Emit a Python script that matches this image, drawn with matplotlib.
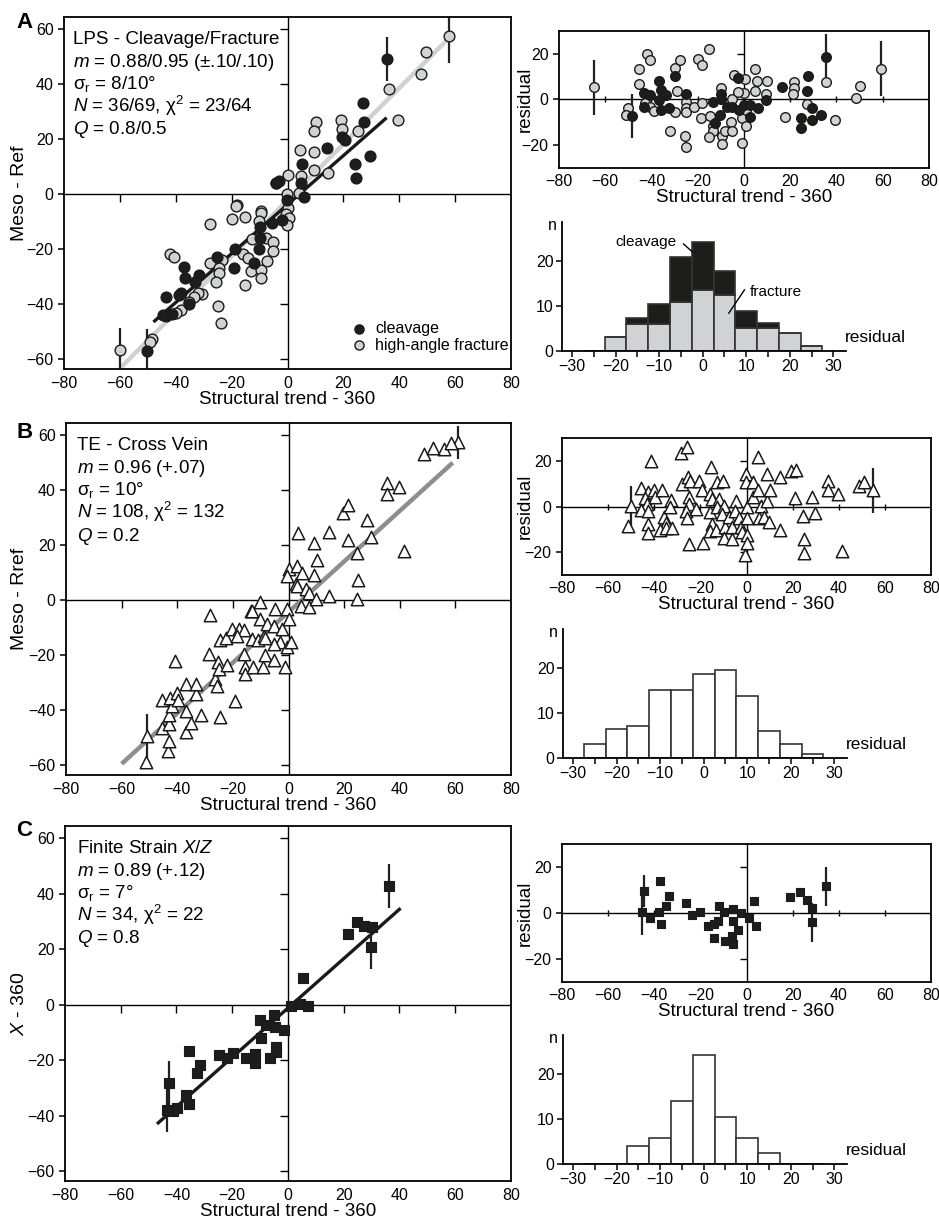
import numpy as np
import matplotlib.pyplot as plt

plt.rcParams['font.family'] = ['Liberation Sans', 'DejaVu Sans']
plt.rcParams['mathtext.fontset'] = 'custom'
plt.rcParams['mathtext.rm'] = 'Liberation Sans'
plt.rcParams['mathtext.it'] = 'Liberation Sans:italic'
plt.rcParams['mathtext.bf'] = 'Liberation Sans:bold'
plt.rcParams['axes.linewidth'] = 1.3

# ---------------- panel A data ----------------
a_clv_x = [35.5, 26.9, 27.2, 19.5, 20.6, 14.1, 29.5, 24.2, 24.6, 5.2, 4.9, 6.0, -3.1, -0.1,
           -5.5, -1.9, -9.9, -9.9, -10.2, -18.7, -19.1, -12.0, -25.3, -36.9, -36.7, -31.8,
           -33.0, -38.1, -39.0, -43.4, -35.3, -43.4, -41.3, -50.3, -4.0, -44.5]
a_clv_y = [49.0, 33.0, 26.3, 20.8, 19.6, 16.8, 13.8, 10.8, 5.9, 10.8, 3.9, -1.0, 4.7, -2.2,
           -10.4, -9.5, -12.1, -16.1, -20.1, -20.1, -26.8, -25.0, -22.8, -26.4, -30.4, -29.5,
           -31.9, -35.9, -36.7, -37.3, -40.0, -44.3, -43.6, -57.0, 4.2, -44.0]
a_frac_x = [57.7, 49.4, 47.7, 36.4, 39.4, 10.2, 9.6, 19.1, 19.5, 25.4, 4.4, 9.6, 9.6, 14.4,
            5.0, 0.2, -4.3, -0.1, 4.0, -18.1, -9.6, 0.2, -0.4, 0.5, -0.1, -18.3, -15.2, -19.7,
            -27.7, -9.6, -10.2, -12.8, -7.8, -5.2, -5.2, -7.5, -16.1, -14.3, -12.9, -9.6, -9.6,
            -15.2, -23.5, -27.7, -24.4, -24.4, -25.6, -42.2, -40.5, -30.6, -32.1, -33.6, -35.1,
            -38.1, -39.9, -25.0, -23.8, -48.5, -49.4, -60.0]
a_frac_y = [57.6, 51.5, 43.6, 38.2, 26.9, 26.3, 23.0, 26.9, 23.5, 23.0, 16.2, 15.2, 8.7, 7.5,
            6.5, 6.9, 3.9, 0.2, 0.5, -4.0, -6.1, -5.2, -7.3, -8.8, -11.3, -4.4, -8.2, -9.1,
            -10.7, -6.7, -9.8, -16.5, -15.8, -17.3, -20.6, -24.4, -21.9, -23.4, -27.9, -27.6,
            -30.4, -33.1, -24.0, -25.0, -26.7, -28.6, -31.9, -21.9, -23.0, -36.4, -35.9, -37.3,
            -39.2, -42.2, -43.4, -40.7, -47.0, -52.8, -53.7, -56.7]
a_clv_err = ([35.5, -50.3], [49.0, -57.0], [8, 8])
a_frac_err = ([57.7, -60.0], [57.6, -56.7], [10, 8])
a_fit_clv = (0.89, -3.8, -48, 35.5)      # slope, intercept, x from, x to
a_fit_frac = (1.02, -2.2, -60, 58)

a_res_frac_x = [-64.9, -50.2, -51.2, -45.4, -45.5, -41.8, -40.8, -43.0, -40.8, -39.1, -30.0,
                -27.8, -28.8, -30.0, -32.1, -25.2, -25.2, -25.2, -25.7, -24.9, -21.8, -19.9,
                -18.0, -15.1, -18.0, -18.7, -14.6, -13.4, -13.4, -15.1, -10.1, -9.5, -9.4, -8.4,
                -5.5, -5.0, -5.2, -4.3, 0.3, 0.0, -2.6, -0.7, 0.7, -0.7, 1.0, 4.9, 5.8, 4.9, 9.9,
                9.7, 17.9, 21.5, 21.5, 21.2, 27.3, 35.3, 39.5, 48.3, 50.3, 59.2]
a_res_frac_y = [5.4, -3.6, -7.0, 13.4, 6.6, 20.0, 17.1, -1.5, -3.1, -5.1, 13.7, 17.5, 3.6, -5.3,
                -13.6, -0.9, -3.6, -5.5, -16.1, -20.9, -3.1, 17.8, 15.2, 21.9, -1.5, -8.0, -7.4,
                -11.7, -13.9, -16.5, 5.1, -16.2, -19.7, -13.9, -9.9, -14.0, 0.3, 10.9, 9.1, 2.8,
                3.2, -8.2, -11.8, -19.0, -4.8, 13.4, 8.0, 3.6, 8.3, 2.5, -7.7, 7.6, 5.1, 2.5,
                -2.2, 7.7, -8.8, 0.7, 6.0, 13.4]
a_res_clv_x = [-48.4, -43.2, -43.2, -40.5, -36.9, -36.9, -36.0, -36.0, -33.6, -32.6, -29.7,
               -24.9, -13.4, -12.4, -10.1, -10.1, -10.2, -7.2, -5.0, -2.6, -2.2, 0.0, 2.5, 2.5,
               6.1, 9.7, 16.4, 27.7, 27.3, 29.5, 24.5, 24.5, 29.4, 33.2, 35.3]
a_res_clv_y = [-7.3, 2.9, -3.1, 1.8, 8.3, -0.1, 4.2, -4.8, 2.0, -3.8, 10.1, 2.5, -1.2, -10.4,
               2.5, 0.0, -6.7, -3.1, -3.1, 9.3, -4.5, -2.3, -2.6, -7.7, -3.6, -0.1, 5.4, 10.5,
               3.9, -3.6, -8.0, -12.7, -9.2, -7.0, 18.8]
a_res_frac_err = ([-64.9, 59.2], [5.4, 13.4], [12, 12])
a_res_clv_err = ([-48.4, 35.3], [-7.3, 18.8], [9.5, 10])

hist_bins = [-25, -20, -15, -10, -5, 0, 5, 10, 15, 20, 25]
a_hist_frac = [0, 3, 6, 6, 11, 13.5, 12.5, 5, 5, 4, 1]
a_hist_clv = [0, 0, 1.3, 4.5, 10, 10.8, 5.3, 4, 1.2, 0, 0]

# ---------------- panel B data ----------------
b_x = [-50.8, -51.1, -43.2, -43.0, -45.4, -37.0, -35.2, -36.7, -43.0, -43.0, -31.6, -24.8,
       -42.0, -45.4, -42.6, -40.0, -39.6, -33.1, -37.0, -33.1, -41.0, -19.3, -26.5, -25.6,
       -25.3, -25.0, -22.0, -28.6, -24.8, -22.6, -20.2, -17.8, -16.1, -18.4, -16.1, -15.5,
       -15.5, -12.7, -9.2, -8.5, -5.3, -1.1, -28.3, -13.4, -10.1, -10.3, -13.0, -10.9, -8.9,
       -7.7, -5.3, -4.7, -0.5, -2.3, 0.1, -2.9, -0.5, 0.7, -5.3, -8.3, 4.3, 7.3, 24.7,
       3.5, 0.1, 2.9, -0.5, 2.5, -13.0, 2.9, 4.9, 6.1, 7.5, 9.0, 9.0, 10.1, 9.7, 14.5, 14.7,
       19.4, 21.5, 21.2, 24.6, 24.9, 28.2, 29.6, 35.4, 35.4, 39.6, 41.5, 48.7, 56.0, 61.0,
       58.5, 52.0]
b_y = [-49.4, -58.7, -54.8, -51.1, -46.4, -47.8, -44.8, -40.4, -45.2, -41.8, -41.8, -42.6,
       -38.4, -36.4, -35.4, -33.6, -36.4, -34.3, -30.4, -30.4, -22.0, -36.7, -28.6, -31.2,
       -22.3, -24.9, -23.7, -19.5, -14.3, -13.7, -10.5, -10.5, -10.7, -12.9, -19.5, -24.3,
       -26.7, -24.3, -24.3, -19.9, -21.7, -24.3, -5.4, -3.9, -0.8, -6.9, -14.1, -14.5, -12.9,
       -8.7, -9.3, -3.3, -3.3, -10.5, -6.9, -15.3, -17.1, -15.3, -15.9, -13.8, -2.1, -2.6, 0.4,
       24.5, 11.2, 12.4, 8.8, 5.8, -3.9, 5.0, 9.8, 4.0, 2.6, 20.8, 9.0, 14.7, 0.5, 24.7, 1.7,
       31.8, 34.6, 22.0, 17.2, 7.4, 29.0, 23.0, 42.8, 38.7, 41.3, 18.0, 53.0, 55.0, 57.5,
       57.0, 55.5]
b_err = ([-50.8, 61.0], [-49.4, 57.5], [8, 6])
b_fit = (0.92, -4.3, -60, 59)

b_res_x = [-50.1, -51.4, -45.7, -42.6, -43.8, -43.1, -45.7, -42.6, -42.8, -42.8, -41.2, -40.2,
           -39.5, -36.6, -35.8, -35.1, -37.3, -35.1, -32.1, -32.7, -33.2, -27.9, -28.2, -25.7,
           -25.4, -24.3, -24.9, -25.0, -26.4, -25.7, -25.0, -21.8, -20.4, -19.2, -18.9, -15.9,
           -15.2, -14.9, -15.9, -14.9, -15.9, -13.2, -12.7, -12.0, -13.0, -10.1, -9.8, -10.8,
           -9.5, -9.8, -7.7, -6.2, -6.2, -4.5, -5.2, -3.3, -2.6, -1.9, -0.1, -0.4, 0.3, 0.0,
           0.3, 0.0, -0.6, 2.9, 2.9, 4.9, 4.9, 5.3, 6.1, 7.5, 9.0, 9.0, 10.1, 9.7, 14.5, 14.7,
           19.4, 21.5, 21.2, 24.6, 24.9, 24.9, 28.2, 29.6, 35.4, 35.4, 39.6, 41.5, 48.7, 50.9,
           54.8]
b_res_y = [0.1, -8.4, 8.3, 6.4, 3.9, 1.0, -1.6, -1.9, -7.7, -11.7, 20.1, 7.4, 4.2, 7.1, -4.5,
           -7.4, -10.3, -9.3, -9.3, 2.8, -0.1, 10.0, 23.3, 26.2, 12.9, 11.0, 4.2, 1.3, -1.9,
           -5.2, -16.4, -0.9, 11.0, 7.4, -16.1, 5.7, 17.2, 3.5, -2.5, -7.7, -10.7, -10.3, 10.7,
           3.5, -0.1, 11.0, 0.1, -3.3, -8.8, -13.9, -4.5, -9.1, -14.3, 2.5, -1.9, -5.2, -8.8,
           -11.0, 14.1, 10.7, -0.1, -4.9, -12.5, -15.8, -21.2, 10.7, 4.2, 21.9, 7.1, -5.2, 0.1,
           -4.5, 14.3, 2.5, 7.1, -6.7, 12.9, -10.3, 15.4, 16.2, 3.9, -4.2, -14.3, -20.4, 4.2,
           -3.0, 11.2, 7.1, 5.7, -19.4, 8.8, 10.7, 7.1]
b_res_err = ([-50.1, 54.8], [0.1, 7.1], [9, 10])
b_hist = [3.2, 6.5, 7.2, 15.2, 15.1, 18.75, 19.6, 13.75, 6.0, 3.1, 1.0]

# ---------------- panel C data ----------------
c_x = [36.1, 24.7, 27.1, 30.1, 21.4, 29.9, 5.4, 1.2, 4.2, 7.0, -5.1, -10.2, -7.8, -4.8, -1.4,
       -9.6, -4.2, -4.2, -6.6, -12.0, -12.0, -15.1, -19.9, -21.9, -24.7, -31.6, -32.8, -35.4,
       -36.7, -35.5, -39.8, -41.2, -42.8, -43.4]
c_y = [42.7, 29.7, 28.5, 28.1, 25.5, 20.8, 9.7, -0.4, 0.2, -0.6, -3.9, -5.7, -7.3, -7.9, -9.1,
       -12.1, -15.2, -17.0, -19.2, -17.9, -21.2, -19.4, -17.6, -19.4, -18.2, -21.6, -24.8,
       -16.6, -32.7, -36.0, -37.3, -38.5, -28.2, -37.9]
c_err = ([36.1, 29.9, -42.8, -43.4], [42.7, 20.8, -28.2, -37.9], [8, 8, 8, 8])
c_fit = (0.89, -1.2, -47, 40.4)

c_res_x = [-45.2, -44.4, -41.9, -38.0, -37.7, -37.1, -34.7, -33.5, -26.4, -23.6, -20.1, -16.9,
           -14.2, -14.2, -12.3, -12.0, -9.8, -9.2, -5.9, -5.8, -6.5, -5.9, -3.9, -2.2, 1.0, 3.2,
           4.3, 18.8, 23.3, 26.3, 28.5, 28.3, 34.4]
c_res_y = [0.4, 9.6, -2.2, 0.4, 13.9, -5.0, 2.8, 7.3, 4.1, -0.7, 0.4, -5.6, -4.9, -10.8, -3.4,
           3.0, 0.4, -12.1, 1.5, -3.3, -10.1, -13.6, -7.4, -0.1, -2.2, 5.2, -5.5, 7.0, 8.9, 5.5,
           2.2, -4.0, 11.6]
c_res_err = ([-45.2, -44.4, 28.3, 34.4], [0.4, 9.6, -4.0, 11.6], [10, 7, 8.5, 8.5])
c_hist = [0, 0, 3.9, 5.8, 14.1, 24.3, 10.5, 5.8, 2.4, 0, 0]

GREY = '#d0d2d3'
DARK = '#1d1e1b'
TICK_FS = 11.5
LAB_FS = 13.5
W, H = 939, 1225

fig = plt.figure(figsize=(W / 100, H / 100), dpi=100)


def zero_cross(ax, xt, yt, xmark, ymark, size):
    ax.axhline(0, color='k', lw=1.0, zorder=1)
    ax.axvline(0, color='k', lw=1.0, zorder=1)
    ax.plot(xt, np.zeros(len(xt)), ls='none', marker=xmark, ms=size, mew=1.0, color='k', zorder=1)
    ax.plot(np.zeros(len(yt)), yt, ls='none', marker=ymark, ms=size, mew=1.0, color='k', zorder=1)


def scatter_axes(rect, ylabel):
    ax = fig.add_axes(rect)
    ax.set_xlim(-80, 80)
    ax.set_ylim(-63.6, 64.4)
    ax.set_xticks(range(-80, 81, 20))
    ax.set_yticks(range(-60, 61, 20))
    ax.tick_params(axis='x', length=0, pad=5, labelsize=TICK_FS)
    ax.tick_params(axis='y', direction='out', length=4, width=1.1, labelsize=TICK_FS)
    zero_cross(ax, [-60, -40, -20, 20, 40, 60], [-60, -40, -20, 20, 40, 60], 3, 0, 6)
    ax.set_xlabel('Structural trend - 360', fontsize=LAB_FS, labelpad=0)
    ax.set_ylabel(ylabel, fontsize=14)
    # right edge of the rotated label at about 28 px from the figure edge
    ax.yaxis.set_label_coords((28 - rect[0] * W) / (rect[2] * W), 0.5)
    return ax


def resid_axes(rect):
    ax = fig.add_axes(rect)
    ax.set_xlim(-80, 80)
    ax.set_ylim(-30, 30)
    ax.set_xticks(range(-80, 81, 20))
    ax.set_yticks([-20, 0, 20])
    ax.tick_params(axis='x', length=0, pad=4, labelsize=TICK_FS)
    ax.tick_params(axis='y', direction='out', length=4, width=1.1, labelsize=TICK_FS)
    zero_cross(ax, [-60, -40, -20, 20, 40, 60], [-20, 20], '|', 0, 5)
    ax.set_xlabel('Structural trend - 360', fontsize=LAB_FS, labelpad=0)
    ax.set_ylabel('residual', fontsize=LAB_FS)
    ax.yaxis.set_label_coords((534 - rect[0] * W) / (rect[2] * W), 0.5)
    return ax


def hist_axes(rect):
    ax = fig.add_axes(rect)
    ax.set_xlim(-32.3, 32.9)
    ax.set_ylim(0, 28.7)
    for s in ['top', 'right']:
        ax.spines[s].set_visible(False)
    ax.set_xticks(range(-30, 31, 10))
    ax.set_xticks(range(-25, 31, 10), minor=True)
    ax.set_yticks([0, 10, 20])
    ax.tick_params(axis='x', which='both', direction='out', length=4, width=1.1, labelsize=TICK_FS, pad=2)
    ax.tick_params(axis='y', direction='out', length=4, width=1.1, labelsize=TICK_FS, pad=2)
    ax.text(-0.02, 0.97, 'n', transform=ax.transAxes, ha='right', va='center', fontsize=TICK_FS)
    ax.text(32.6, 3.0, 'residual', ha='left', va='center', fontsize=12.5, clip_on=False)
    return ax


def fit_line(ax, fit, color, lw):
    m, b, x0, x1 = fit
    xs = np.array([x0, x1])
    ax.plot(xs, m * xs + b, color=color, lw=lw, solid_capstyle='butt', zorder=2)


def errs(ax, e):
    ax.errorbar(e[0], e[1], yerr=e[2], fmt='none', ecolor='#222', elinewidth=1.6, capsize=0, zorder=2)


def stats_text(ax, x_px, lines):
    # baselines 27 px below the top spine, 22.6 px apart
    x0, y0, w, h = ax.get_position().bounds
    for i, s in enumerate(lines):
        yb = 1 - (27 + 22.6 * i) / (h * H)
        ax.text((x_px - x0 * W) / (w * W), yb, s, transform=ax.transAxes, ha='left',
                va='baseline', fontsize=13.5)


# ---------------- A ----------------
ax = scatter_axes([0.0682, 0.6988, 0.476, 0.2873], 'Meso - Ref')
fit_line(ax, a_fit_frac, '#cfd1d2', 3.2)
fit_line(ax, a_fit_clv, '#1a1a1a', 2.4)
errs(ax, a_clv_err)
errs(ax, a_frac_err)
ax.scatter(a_frac_x, a_frac_y, s=60, c=GREY, edgecolors='#1a1a1a', linewidths=1.0, zorder=3,
           label='high-angle fracture')
ax.scatter(a_clv_x, a_clv_y, s=60, c=DARK, edgecolors='#1a1a1a', linewidths=1.0, zorder=4,
           label='cleavage')
h, l = ax.get_legend_handles_labels()
ax.legend(h[::-1], l[::-1], loc='lower left', bbox_to_anchor=(0.6, 0.015), frameon=False,
          fontsize=11.5, handletextpad=0.0, labelspacing=0.1, borderpad=0.2, markerscale=0.85)
stats_text(ax, 73, ['LPS - Cleavage/Fracture',
                    r'$m$ = 0.88/0.95 (±.10/.10)',
                    r'σ$_\mathrm{r}$ = 8/10°',
                    r'$N$ = 36/69, χ$^2$ = 23/64',
                    r'$Q$ = 0.8/0.5'])

ax = resid_axes([0.5953, 0.8629, 0.394, 0.1118])
errs(ax, a_res_frac_err)
errs(ax, a_res_clv_err)
ax.scatter(a_res_frac_x, a_res_frac_y, s=48, c=GREY, edgecolors='#1a1a1a', linewidths=1.0, zorder=3)
ax.scatter(a_res_clv_x, a_res_clv_y, s=48, c=DARK, edgecolors='#1a1a1a', linewidths=1.0, zorder=4)

ax = hist_axes([0.5985, 0.7135, 0.3024, 0.1053])
ax.bar(hist_bins, a_hist_frac, width=5, color=GREY, edgecolor='#333333', linewidth=1.2)
ax.bar(hist_bins, a_hist_clv, width=5, bottom=a_hist_frac, color=DARK, edgecolor='#333333', linewidth=1.2)
ax.text(-6.0, 24.2, 'cleavage', ha='right', va='center', fontsize=11)
ax.plot([-4.4, -2.3], [23.8, 22.0], color='k', lw=1)
ax.text(10.8, 13.1, 'fracture', ha='left', va='center', fontsize=11)
ax.plot([9.6, 6.0], [13.6, 8.4], color='k', lw=1)

# ---------------- B ----------------
ax = scatter_axes([0.0703, 0.3673, 0.474, 0.2873], 'Meso - Rref')
fit_line(ax, b_fit, '#8a8f8f', 3.2)
errs(ax, b_err)
ax.scatter(b_x, b_y, s=80, marker='^', c='white', edgecolors='#1a1a1a', linewidths=1.1, zorder=3)
stats_text(ax, 77, ['TE - Cross Vein',
                    r'$m$ = 0.96 (+.07)',
                    r'σ$_\mathrm{r}$ = 10°',
                    r'$N$ = 108, χ$^2$ = 132',
                    r'$Q$ = 0.2'])

ax = resid_axes([0.5985, 0.5306, 0.393, 0.1118])
errs(ax, b_res_err)
ax.scatter(b_res_x, b_res_y, s=80, marker='^', c='white', edgecolors='#1a1a1a', linewidths=1.1, zorder=3)

ax = hist_axes([0.5996, 0.3812, 0.3024, 0.1053])
ax.bar(hist_bins, b_hist, width=5, color='white', edgecolor='#333333', linewidth=1.2)

# ---------------- C ----------------
ax = scatter_axes([0.0692, 0.0359, 0.475, 0.2898], r'$X$ - 360')
fit_line(ax, c_fit, '#1a1a1a', 2.4)
errs(ax, c_err)
ax.scatter(c_x, c_y, s=60, marker='s', c=DARK, edgecolors='#1a1a1a', linewidths=0.8, zorder=3)
stats_text(ax, 77, [r'Finite Strain $X$/$Z$',
                    r'$m$ = 0.89 (+.12)',
                    r'σ$_\mathrm{r}$ = 7°',
                    r'$N$ = 34, χ$^2$ = 22',
                    r'$Q$ = 0.8'])

ax = resid_axes([0.5985, 0.1984, 0.393, 0.1127])
errs(ax, c_res_err)
ax.scatter(c_res_x, c_res_y, s=32, marker='s', c=DARK, edgecolors='#1a1a1a', linewidths=0.8, zorder=3)

ax = hist_axes([0.5996, 0.0498, 0.3024, 0.1053])
ax.bar(hist_bins, c_hist, width=5, color='white', edgecolor='#333333', linewidth=1.2)

# panel letters
for letter, ypx in [('A', 23), ('B', 432), ('C', 831)]:
    fig.text(16 / W, 1 - ypx / H, letter, fontsize=16, fontweight='bold', ha='left', va='center')

fig.savefig('out.png', dpi=100)
